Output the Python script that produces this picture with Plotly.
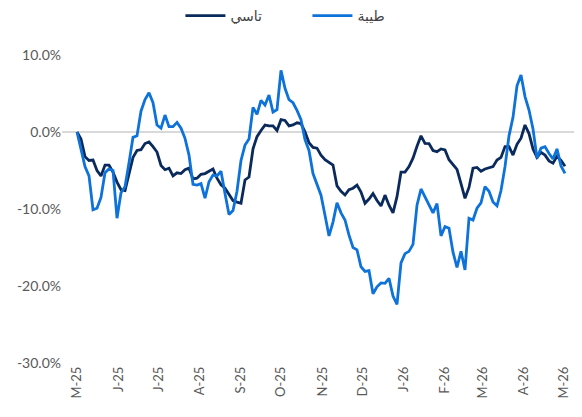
import pandas as pd
import plotly.graph_objects as go

start_date = "2025-05-01"
step = "3D"

tasi = [0, -0.9, -3.2, -3.7, -3.65, -5.0, -5.7, -4.3, -4.3, -5.2,
        -6.5, -7.5, -7.6, -5.6, -3.3, -2.4, -2.3, -1.5, -1.3, -1.9,
        -2.6, -4.35, -4.9, -4.7, -5.7, -5.3, -5.4, -4.9, -4.7, -6.1,
        -6.0, -5.5, -5.4, -5.1, -4.8, -6.0, -6.85, -7.3, -8.1, -8.9,
        -9.1, -9.26, -6.23, -5.85, -2.2, -0.6, 0.2, 0.9, 0.8, 0.8,
        0.2, 1.6, 1.5, 0.8, 0.91, 1.2, 1.1, 0.04, -1.4, -2.0,
        -2.1, -3.0, -3.6, -3.95, -4.3, -7.0, -7.7, -8.18, -7.5, -7.3,
        -6.9, -7.8, -9.26, -8.7, -8.0, -8.9, -9.6, -8.2, -9.5, -10.5,
        -8.4, -5.2, -5.2, -4.5, -3.4, -1.85, -0.5, -1.47, -1.5, -2.4,
        -2.55, -2.2, -2.34, -3.6, -4.27, -4.85, -6.7, -8.61, -7.2, -4.7,
        -4.6, -5.1, -4.8, -4.65, -4.5, -3.64, -3.3, -1.9, -1.9, -3.0,
        -1.6, -0.8, 0.91, -0.2, -2.2, -3.3, -2.65, -3.0, -3.75, -4.05,
        -3.15, -3.7, -4.45]

taiba = [0, -2.2, -4.5, -5.7, -10.1, -9.9, -8.5, -5.3, -4.8, -5.0,
         -11.2, -7.9, -7.1, -4.0, -0.7, -0.5, 2.7, 4.2, 5.1, 3.8,
         0.9, 0.5, 2.2, 0.7, 0.7, 1.25, 0.5, -0.82, -3.0, -6.8,
         -6.9, -6.7, -8.6, -6.45, -5.6, -5.7, -5.1, -8.0, -10.7, -10.2,
         -7.7, -3.7, -1.7, -0.9, 3.2, 2.3, 4.1, 3.5, 4.8, 2.6,
         2.9, 8.0, 5.67, 4.2, 3.8, 2.8, 1.6, -1.0, -2.4, -5.4,
         -6.9, -8.2, -10.8, -13.5, -11.7, -9.2, -10.5, -11.43, -13.4, -15.0,
         -15.3, -17.5, -18.1, -18.0, -21.0, -20.1, -19.6, -19.65, -19.0, -21.3,
         -22.4, -17.0, -15.8, -15.5, -14.6, -9.5, -7.4, -8.4, -9.5, -10.5,
         -9.3, -13.5, -12.29, -12.5, -15.6, -17.6, -15.5, -17.9, -11.2, -11.43,
         -9.9, -9.2, -7.1, -7.7, -9.1, -9.6, -7.6, -4.5, -0.5, 1.9,
         6.0, 7.4, 4.6, 2.86, 0.4, -3.4, -2.1, -1.9, -2.8, -3.5,
         -2.2, -4.4, -5.37]

tick_dates = ["2025-05-01", "2025-06-01", "2025-07-01", "2025-08-01", "2025-09-01",
              "2025-10-01", "2025-11-01", "2025-12-01", "2026-01-01", "2026-02-01",
              "2026-03-01", "2026-04-01", "2026-05-01"]
tick_labels = ["M-25", "J-25", "J-25", "A-25", "S-25", "O-25", "N-25", "D-25",
               "J-26", "F-26", "M-26", "A-26", "M-26"]

y_ticks = [10, 0, -10, -20, -30]
y_labels = ["10.0%", "0.0%", "-10.0%", "-20.0%", "-30.0%"]

names = ["تاسي", "طيبة"]
colors = ["#0a2a5c", "#0d72d9"]

dates = pd.date_range(start=start_date, periods=len(tasi), freq=step)

fig = go.Figure()
for name, vals, col in zip(names, [tasi, taiba], colors):
    fig.add_trace(go.Scatter(x=dates, y=vals, mode="lines", name=name,
                             line=dict(color=col, width=2.8)))

font_family = "Lato, 'DejaVu Sans', sans-serif"
fig.update_layout(
    width=582, height=417,
    margin=dict(l=62, r=8, t=55, b=54),
    paper_bgcolor="white", plot_bgcolor="white",
    font=dict(family=font_family, size=13, color="#595959"),
    showlegend=True,
    legend=dict(orientation="h", xref="container", yref="container",
                x=0.31, xanchor="left", y=1.0, yanchor="top",
                font=dict(size=14, color="#404040"),
                itemwidth=40, entrywidth=72, entrywidthmode="pixels",
                traceorder="normal"),
    xaxis=dict(type="date",
               range=["2025-04-19 18:00", "2026-05-08 18:00"],
               tickvals=tick_dates, ticktext=tick_labels, tickangle=-90,
               showgrid=False, zeroline=False, showline=False, ticks="",
               automargin=False,
               tickfont=dict(size=13, color="#595959")),
    yaxis=dict(range=[-30, 10], tickvals=y_ticks, ticktext=y_labels,
               showgrid=False, zeroline=True, zerolinecolor="#d9d9d9",
               zerolinewidth=1.5, showline=False, ticks="",
               automargin=False,
               tickfont=dict(size=14, color="#595959")),
)

fig.write_html("out.html",
               config={"displayModeBar": False},
               post_script="document.body.style.margin='0';document.body.style.padding='0';")
